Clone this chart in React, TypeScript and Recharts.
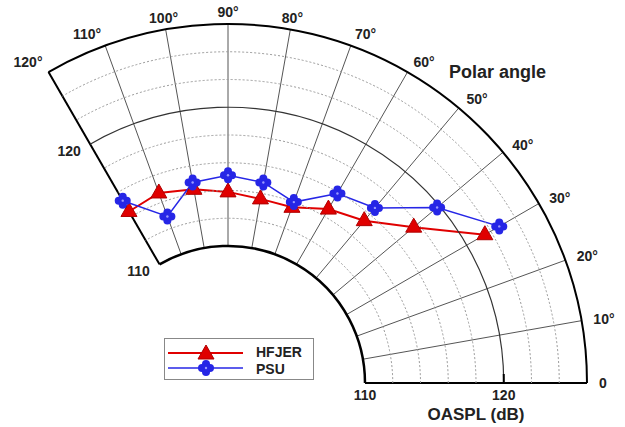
import { RadarChart, Radar, PolarGrid, PolarAngleAxis, PolarRadiusAxis, Legend } from 'recharts';

// polar angle (deg) of each measured point
const angles = [30, 40, 50, 60, 70, 80, 90, 100, 110, 120];
const hfjerOaspl = [121.5, 117.6, 115.4, 114.6, 113.6, 113.6, 113.9, 114.3, 114.7, 114.4];
const psuOaspl = [122.7, 119.8, 116.6, 115.9, 114.0, 114.8, 115.1, 114.8, 112.9, 115.3];

const angleTicks = [0, 10, 20, 30, 40, 50, 60, 70, 80, 90, 100, 110, 120];
const radiusTicks = [110, 112, 114, 116, 118, 120, 122, 124, 126];
const labeledRadii = [110, 120];

const data = angles.map((a, i) => ({ angle: a, hfjer: hfjerOaspl[i], psu: psuOaspl[i] }));

const CX = 228;
const CY = 383;
const R_IN = 137;
const R_OUT = 359;
const FONT = '"Liberation Sans", Arial, sans-serif';
const RED = '#e00000';
const BLUE = '#2626e6';

const rad = (deg: number) => (deg * Math.PI) / 180;
const polar = (r: number, deg: number) => ({ x: CX + r * Math.cos(rad(deg)), y: CY - r * Math.sin(rad(deg)) });

function Triangle({ cx, cy }: any) {
  if (cx == null || cy == null || isNaN(cx) || isNaN(cy)) return null;
  return (
    <polygon
      points={`${cx},${cy - 9} ${cx - 8},${cy + 5} ${cx + 8},${cy + 5}`}
      fill={RED}
      stroke="#b00000"
      strokeWidth={1}
    />
  );
}

function Clover({ cx, cy }: any) {
  if (cx == null || cy == null || isNaN(cx) || isNaN(cy)) return null;
  return (
    <g>
      <circle cx={cx - 4} cy={cy} r={4} fill={BLUE} />
      <circle cx={cx + 4} cy={cy} r={4} fill={BLUE} />
      <circle cx={cx} cy={cy - 4} r={4} fill={BLUE} />
      <circle cx={cx} cy={cy + 4} r={4} fill={BLUE} />
      <circle cx={cx} cy={cy} r={4.5} fill={BLUE} />
      <circle cx={cx} cy={cy} r={1.2} fill="#9a9aff" />
    </g>
  );
}

// open polyline through the points recharts computed (no closing segment)
function OpenLine(props: any) {
  const pts = (props.points || []).filter((p: any) => !isNaN(p.x) && !isNaN(p.y));
  const d = pts.map((p: any, i: number) => `${i === 0 ? 'M' : 'L'}${p.x},${p.y}`).join(' ');
  return <path d={d} fill="none" stroke={props.stroke} strokeWidth={props.strokeWidth} />;
}

function AngleTick(props: any) {
  const { payload } = props;
  const v = payload.value as number;
  const p = polar(R_OUT + 12, v);
  const anchor = v < 75 ? 'start' : v > 105 ? 'end' : 'middle';
  return (
    <text
      x={p.x}
      y={p.y}
      textAnchor={anchor}
      dominantBaseline="central"
      fontFamily={FONT}
      fontWeight="bold"
      fontSize={14}
      fill="#222"
    >
      {v === 0 ? '0' : `${v}°`}
    </text>
  );
}

function RadiusTick(props: any) {
  const { payload } = props;
  const v = payload.value as number;
  const r = payload.coordinate as number;
  const a = polar(r, 0);
  const b = polar(r, 120);
  const edge = v === 110 || v === 126;
  const solid = v === 120;
  const d = `M ${a.x} ${a.y} A ${r} ${r} 0 0 0 ${b.x} ${b.y}`;
  return (
    <g>
      <path
        d={d}
        fill="none"
        stroke={edge ? '#000' : solid ? '#333' : '#9a9a9a'}
        strokeWidth={v === 110 ? 2.5 : edge ? 2 : solid ? 1.2 : 1}
        strokeDasharray={edge || solid ? undefined : '2 2'}
      />
      {labeledRadii.includes(v) && (
        <g fontFamily={FONT} fontWeight="bold" fontSize={14} fill="#222">
          <text x={a.x} y={a.y + 12} textAnchor="middle" dominantBaseline="central">{v}</text>
          <text x={b.x - 21} y={b.y + 7} textAnchor="middle" dominantBaseline="central">{v}</text>
        </g>
      )}
      {v === 120 && <line x1={a.x} y1={a.y} x2={a.x} y2={a.y - 9} stroke="#000" strokeWidth={2} />}
    </g>
  );
}

function LegendBox() {
  return (
    <div style={{ width: 150, height: 42, border: '1px solid #888', background: '#fff', boxSizing: 'border-box' }}>
      <svg width={148} height={40} style={{ display: 'block' }}>
        <line x1={3} y1={14} x2={78} y2={14} stroke={RED} strokeWidth={2} />
        <Triangle cx={41} cy={15} />
        <text x={91} y={18} fontFamily={FONT} fontWeight="bold" fontSize={14} fill="#222">HFJER</text>
        <line x1={3} y1={29} x2={78} y2={29} stroke={BLUE} strokeWidth={1.5} />
        <Clover cx={41} cy={29} />
        <text x={91} y={35} fontFamily={FONT} fontWeight="bold" fontSize={14} fill="#222">PSU</text>
      </svg>
    </div>
  );
}

export default function App() {
  return (
    <div style={{ position: 'absolute', left: 0, top: 0, width: 625, height: 427, background: '#fff' }}>
      <RadarChart
        width={625}
        height={427}
        data={data}
        cx={CX}
        cy={CY}
        innerRadius={R_IN}
        outerRadius={R_OUT}
        startAngle={0}
        endAngle={120}
        margin={{ top: 0, right: 0, bottom: 0, left: 0 }}
      >
        <PolarGrid polarRadius={[]} radialLines stroke="#555" strokeWidth={1} />
        <PolarGrid polarRadius={[]} polarAngles={[0, 120]} radialLines stroke="#000" strokeWidth={2} />
        <PolarAngleAxis
          dataKey="angle"
          type="number"
          domain={[0, 120]}
          ticks={angleTicks}
          axisLine={false}
          tickLine={false}
          tick={<AngleTick />}
        />
        <PolarRadiusAxis
          angle={0}
          type="number"
          domain={[110, 126]}
          ticks={radiusTicks}
          axisLine={false}
          tick={<RadiusTick />}
        />
        <Radar
          name="HFJER"
          dataKey="hfjer"
          stroke={RED}
          strokeWidth={2}
          fill="none"
          fillOpacity={0}
          shape={<OpenLine />}
          dot={<Triangle />}
          isAnimationActive={false}
        />
        <Radar
          name="PSU"
          dataKey="psu"
          stroke={BLUE}
          strokeWidth={1.5}
          fill="none"
          fillOpacity={0}
          shape={<OpenLine />}
          dot={<Clover />}
          isAnimationActive={false}
        />
        <Legend content={<LegendBox />} wrapperStyle={{ position: 'absolute', left: 164, top: 338, width: 150, height: 42 }} />
        <text x={449} y={72} dominantBaseline="central" fontFamily={FONT} fontWeight="bold" fontSize={18} fill="#222">
          Polar angle
        </text>
        <text x={476} y={414} textAnchor="middle" dominantBaseline="central" fontFamily={FONT} fontWeight="bold" fontSize={17} fill="#222">
          OASPL (dB)
        </text>
      </RadarChart>
    </div>
  );
}
